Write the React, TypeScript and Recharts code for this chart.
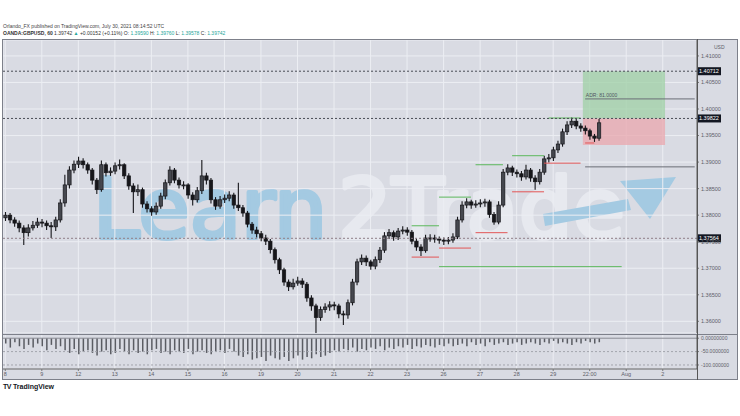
import React from "react";
import {
  ComposedChart,
  Bar,
  XAxis,
  YAxis,
  CartesianGrid,
  ReferenceLine,
  ReferenceArea,
} from "recharts";

const FONT = "'Liberation Sans', Arial, sans-serif";
const PANE = "#d9dbe3";
const GRID = "#eceef3";

// GBPUSD, 3h candles (open = previous close)
const firstOpen = 1.3795;
const closes = [
  1.38, 1.3791, 1.3785, 1.3776, 1.3767, 1.3776, 1.3781, 1.3787, 1.3785, 1.378,
  1.3778, 1.3791, 1.3823, 1.3857, 1.3885, 1.3896, 1.3902, 1.3895, 1.3885, 1.3866,
  1.3848, 1.3895, 1.388, 1.3883, 1.3893, 1.3895, 1.3874, 1.3855, 1.3844, 1.3848,
  1.3821, 1.3812, 1.3806, 1.3817, 1.3836, 1.3861, 1.3885, 1.3866, 1.3857, 1.3857,
  1.3838, 1.3829, 1.3846, 1.3874, 1.3866, 1.3829, 1.3817, 1.3829, 1.3832, 1.3838,
  1.3819, 1.3814, 1.3804, 1.3783, 1.3772, 1.3765, 1.3757, 1.3751, 1.3735, 1.3716,
  1.3697, 1.3674, 1.3665, 1.3672, 1.3676, 1.367, 1.3644, 1.3629, 1.3607, 1.3622,
  1.3627, 1.3631, 1.3629, 1.3614, 1.3612, 1.3635, 1.3674, 1.3712, 1.3719, 1.3712,
  1.3704, 1.3716, 1.3734, 1.3761, 1.3767, 1.3759, 1.377, 1.3772, 1.3768, 1.3751,
  1.374, 1.3733, 1.3757, 1.3757, 1.3755, 1.3753, 1.3751, 1.3753, 1.3759, 1.3791,
  1.3819, 1.3825, 1.3819, 1.3821, 1.3823, 1.3825, 1.3801, 1.3787, 1.3819, 1.3881,
  1.3889, 1.3881, 1.3878, 1.3872, 1.3885, 1.387, 1.3863, 1.3881, 1.3906, 1.3908,
  1.3923, 1.3934, 1.3957, 1.397, 1.3977, 1.3968, 1.3964, 1.3959, 1.3949, 1.3945,
  1.3974,
];
const highs = [
  1.3806, 1.3804, 1.3796, 1.379, 1.3781, 1.3783, 1.3789, 1.3795, 1.3793, 1.379,
  1.3787, 1.3797, 1.383, 1.3876, 1.3892, 1.3903, 1.391, 1.3907, 1.3899, 1.3889,
  1.387, 1.3903, 1.3899, 1.389, 1.3899, 1.3905, 1.3898, 1.3879, 1.386, 1.3858,
  1.3852, 1.3826, 1.3817, 1.3824, 1.3842, 1.3867, 1.3892, 1.3889, 1.3871, 1.3864,
  1.386, 1.3843, 1.3853, 1.3904, 1.388, 1.387, 1.3834, 1.3836, 1.3839, 1.3845,
  1.3842, 1.3861, 1.3819, 1.3808, 1.3787, 1.3778, 1.377, 1.3763, 1.3755, 1.3739,
  1.372, 1.3701, 1.3679, 1.368, 1.3684, 1.3681, 1.3674, 1.3649, 1.3633, 1.3628,
  1.3634, 1.3638, 1.3637, 1.3633, 1.362, 1.3641, 1.368, 1.3718, 1.3726, 1.3724,
  1.3716, 1.3722, 1.374, 1.3768, 1.3774, 1.3771, 1.3776, 1.3779, 1.3777, 1.3772,
  1.3756, 1.3745, 1.3763, 1.3764, 1.3763, 1.376, 1.3758, 1.3759, 1.3766, 1.3797,
  1.3826, 1.3832, 1.3829, 1.3828, 1.383, 1.3831, 1.3829, 1.3806, 1.3826, 1.3887,
  1.3896, 1.3893, 1.3886, 1.3883, 1.3895, 1.3889, 1.3875, 1.3887, 1.3912, 1.3915,
  1.3929, 1.394, 1.3963, 1.3977, 1.3984, 1.3981, 1.3973, 1.3969, 1.3963, 1.3953,
  1.3981,
];
const lows = [
  1.3789, 1.3785, 1.3778, 1.3768, 1.3744, 1.376, 1.3771, 1.3776, 1.3777, 1.3772,
  1.3757, 1.377, 1.3786, 1.3816, 1.385, 1.3879, 1.3889, 1.3888, 1.3878, 1.3858,
  1.384, 1.3844, 1.3873, 1.3874, 1.3877, 1.3886, 1.3868, 1.3848, 1.3804, 1.3836,
  1.3814, 1.3805, 1.3799, 1.3801, 1.3812, 1.383, 1.3856, 1.386, 1.385, 1.3849,
  1.3831, 1.3818, 1.3824, 1.384, 1.3858, 1.3822, 1.381, 1.3812, 1.3823, 1.3826,
  1.3812, 1.3808, 1.3797, 1.3777, 1.3765, 1.3758, 1.3751, 1.3744, 1.3728, 1.3709,
  1.3689, 1.3667, 1.3657, 1.366, 1.3667, 1.3663, 1.3637, 1.362, 1.3578, 1.3601,
  1.3616, 1.362, 1.3621, 1.3606, 1.3593, 1.3605, 1.363, 1.3668, 1.3706, 1.3704,
  1.3697, 1.3698, 1.371, 1.3729, 1.3755, 1.3752, 1.3753, 1.3764, 1.3761, 1.3745,
  1.3733, 1.3723, 1.3729, 1.375, 1.3748, 1.3746, 1.3744, 1.3745, 1.3748, 1.3755,
  1.3786, 1.3813, 1.3812, 1.3814, 1.3815, 1.3816, 1.3795, 1.3782, 1.3783, 1.3815,
  1.3875, 1.3874, 1.3871, 1.3865, 1.3867, 1.3863, 1.3848, 1.3858, 1.3876, 1.3899,
  1.3902, 1.3917, 1.3929, 1.3951, 1.3964, 1.3962, 1.3957, 1.3952, 1.3942, 1.3938,
  1.394,
];
// lower pane oscillator
const oscValues = [
  -20, -35, -15, -30, -40, -25, -35, -20, -30, -45, -25, -40, -30,
  -45, -55, -40, -60, -50, -45, -55, -65, -50, -45, -60, -55, -40, -50, -60, -45,
  -55, -50, -60, -45, -40, -55, -50, -60, -45, -50, -55, -40, -60, -50, -45, -55,
  -60, -50, -45, -55, -40, -50,
  -65, -70, -60, -80, -75, -70, -85, -65, -75, -80, -70, -85, -75, -65, -80, -70,
  -75, -60, -70, -65,
  -55, -45, -50, -40, -45, -35, -50, -40, -45, -35, -40, -30, -45, -35, -40, -30,
  -35, -25, -40, -30, -35, -25, -30, -35, -25, -30, -20, -30,
  -25, -20, -30, -15, -25, -20, -30, -15, -25, -20, -15, -25, -20, -15, -25, -20,
  -15, -20, -25, -15, -20, -10, -20, -15, -20, -25, -15, -20, -10, -15, -20, -15,
];

const slotCount = 152;
const dayTicks = [0, 8, 16, 24, 32, 40, 48, 56, 64, 72, 80, 88, 96, 104, 112, 120, 128, 136, 144];
const dayLabels = ["8", "9", "12", "13", "14", "15", "16", "19", "20", "21", "22", "23", "26", "27", "28", "29", "22:00", "Aug", "2"];
const priceTicks = [1.36, 1.365, 1.37, 1.375, 1.38, 1.385, 1.39, 1.395, 1.4, 1.405, 1.41];
const markedLevels = [1.40712, 1.39822, 1.37564];
const oscTicks = [0, -50, -100];
const oscLabels = ["0.00000000", "-50.0000000", "-100.000000"];

const greenLevels = [
  { from: 119, to: 126, price: 1.3983 },
  { from: 111, to: 118, price: 1.3912 },
  { from: 103, to: 109, price: 1.3895 },
  { from: 95, to: 102, price: 1.3834 },
  { from: 89, to: 95, price: 1.378 },
  { from: 95, to: 135, price: 1.3703 },
];
const redLevels = [
  { from: 127, to: 129, price: 1.3936 },
  { from: 118, to: 126, price: 1.3898 },
  { from: 111, to: 118, price: 1.3844 },
  { from: 103, to: 110, price: 1.3767 },
  { from: 95, to: 102, price: 1.3738 },
  { from: 89, to: 95, price: 1.3721 },
];
const greyLevels = [
  { from: 127, to: 151, price: 1.4019 },
  { from: 127, to: 151, price: 1.3891 },
];
const position = { from: 127, to: 144, target: 1.40712, entry: 1.39822, stop: 1.3932 };

const data = Array.from({ length: slotCount }, (_, i) =>
  i < closes.length
    ? {
        i,
        open: i === 0 ? firstOpen : closes[i - 1],
        close: closes[i],
        high: highs[i],
        low: lows[i],
        range: [lows[i], highs[i]],
        osc: oscValues[i],
      }
    : { i }
);

const Candle = (props: any) => {
  const { x, y, width, height, payload } = props;
  if (!payload || payload.high == null) return null;
  const { open, close, high, low } = payload;
  const h = Math.abs(height);
  const top = height < 0 ? y + height : y;
  const k = h / (high - low);
  const cx = x + width / 2;
  const yO = top + (high - open) * k;
  const yC = top + (high - close) * k;
  const bTop = Math.min(yO, yC);
  const bH = Math.max(1, Math.abs(yC - yO));
  const up = close >= open;
  return (
    <g>
      <line x1={cx} x2={cx} y1={top} y2={top + h} stroke="#16161a" strokeWidth={1.1} />
      <rect
        x={cx - 1.7}
        y={bTop}
        width={3.4}
        height={bH}
        fill={up ? "#45474e" : "#16161a"}
        stroke="#16161a"
        strokeWidth={0.7}
      />
    </g>
  );
};

const LevelTag = (props: any) => {
  const { viewBox, text } = props;
  if (!viewBox) return null;
  const x = viewBox.x + viewBox.width;
  const y = viewBox.y;
  return (
    <g>
      <rect x={x} y={y - 4} width={24} height={8} fill="#131722" />
      <text x={x + 2} y={y + 2} fontSize={5.5} fill="#ffffff" fontFamily={FONT}>
        {text}
      </text>
    </g>
  );
};

export default function App() {
  return (
    <div
      style={{
        position: "absolute",
        left: 0,
        top: 0,
        width: 740,
        height: 416,
        background: "#ffffff",
        fontFamily: FONT,
        overflow: "hidden",
      }}
    >
      <div style={{ position: "absolute", left: 3, top: 23, fontSize: 5, color: "#444", whiteSpace: "nowrap", lineHeight: "6px" }}>
        Orlando_FX published on TradingView.com, July 30, 2021 08:14:52 UTC
      </div>
      <div style={{ position: "absolute", left: 3, top: 30, fontSize: 5, color: "#333", whiteSpace: "nowrap", lineHeight: "6px" }}>
        <b>OANDA:GBPUSD, 60</b> 1.39742 <span style={{ color: "#26a69a" }}>▲</span> +0.00152 (+0.11%) O:{" "}
        <span style={{ color: "#26a69a" }}>1.39590</span> H: <span style={{ color: "#26a69a" }}>1.39760</span> L:{" "}
        <span style={{ color: "#26a69a" }}>1.39578</span> C: <span style={{ color: "#26a69a" }}>1.39742</span>
      </div>

      {/* chart frame */}
      <div
        style={{
          position: "absolute",
          left: 2,
          top: 39,
          width: 736,
          height: 341,
          boxSizing: "border-box",
          border: "1px solid #7d808a",
          background: PANE,
        }}
      />

      {/* watermark */}
      <svg width={740} height={416} style={{ position: "absolute", left: 0, top: 0 }}>
        <text
          x={93}
          y={238}
          fontSize={84}
          fontFamily="'DejaVu Sans', sans-serif"
          textLength={234}
          lengthAdjust="spacingAndGlyphs"
          fill="#a4cae2"
          stroke="#a4cae2"
          strokeWidth={4}
          strokeLinejoin="round"
        >
          Learn
        </text>
        <text
          x={338}
          y={238}
          fontSize={84}
          fontFamily="'DejaVu Sans', sans-serif"
          textLength={287}
          lengthAdjust="spacingAndGlyphs"
          fill="#e7e9ef"
          stroke="#e7e9ef"
          strokeWidth={4}
          strokeLinejoin="round"
        >
          2Trade
        </text>
        <polygon points="543,214 628,199 631,210 545,226" fill="#a4cae2" />
        <polygon points="620,181 676,177 650,219" fill="#a4cae2" />
      </svg>

      {/* price pane */}
      <div style={{ position: "absolute", left: 3, top: 40 }}>
        <ComposedChart width={735} height={293} data={data} margin={{ top: 0, right: 0, bottom: 0, left: 0 }}>
          <CartesianGrid stroke={GRID} strokeWidth={1} />
          <XAxis dataKey="i" type="category" hide ticks={dayTicks} interval={0} />
          <YAxis
            orientation="right"
            width={41}
            type="number"
            domain={[1.3578, 1.413]}
            allowDataOverflow
            ticks={priceTicks}
            interval={0}
            tickFormatter={(v: number) => v.toFixed(5)}
            tick={{ fontSize: 5.5, fill: "#5d6069", fontFamily: FONT }}
            tickSize={2}
            tickMargin={2}
            axisLine={{ stroke: "#555" }}
            tickLine={{ stroke: "#777" }}
          />
          <ReferenceArea
            x1={position.from}
            x2={position.to}
            y1={position.entry}
            y2={position.target}
            fill="#9fd0a6"
            fillOpacity={0.75}
            stroke="none"
            label={{ value: "ADR: 81.0000", position: "insideLeft", fontSize: 5, fill: "#4f5560", offset: 3 }}
          />
          <ReferenceArea
            x1={position.from}
            x2={position.to}
            y1={position.stop}
            y2={position.entry}
            fill="#eaa7ad"
            fillOpacity={0.75}
            stroke="none"
          />
          {greyLevels.map((l, k) => (
            <ReferenceLine
              key={"gr" + k}
              segment={[{ x: l.from, y: l.price }, { x: l.to, y: l.price }]}
              stroke="#6b6e76"
              strokeWidth={1}
            />
          ))}
          {greenLevels.map((l, k) => (
            <ReferenceLine
              key={"g" + k}
              segment={[{ x: l.from, y: l.price }, { x: l.to, y: l.price }]}
              stroke="#5cb85c"
              strokeWidth={1}
            />
          ))}
          {redLevels.map((l, k) => (
            <ReferenceLine
              key={"r" + k}
              segment={[{ x: l.from, y: l.price }, { x: l.to, y: l.price }]}
              stroke="#e35656"
              strokeWidth={1}
            />
          ))}
          {markedLevels.map((lv, k) => (
            <ReferenceLine
              key={"m" + k}
              y={lv}
              stroke={k === 2 ? "#8f7f88" : "#4a4d55"}
              strokeDasharray="2 2"
              strokeWidth={1}
              label={<LevelTag text={lv.toFixed(5)} />}
            />
          ))}
          <Bar dataKey="range" barSize={3} isAnimationActive={false} shape={(p: any) => <Candle {...p} />} />
        </ComposedChart>
      </div>

      {/* oscillator pane + time axis */}
      <div style={{ position: "absolute", left: 3, top: 335 }}>
        <ComposedChart width={735} height={45} data={data} margin={{ top: 0, right: 0, bottom: 0, left: 0 }}>
          <CartesianGrid stroke={GRID} horizontal={false} />
          <XAxis
            dataKey="i"
            type="category"
            ticks={dayTicks}
            interval={0}
            height={11}
            tickFormatter={(v: number) => dayLabels[dayTicks.indexOf(v)] ?? ""}
            tick={{ fontSize: 5.5, fill: "#5d6069", fontFamily: FONT }}
            tickSize={2}
            tickMargin={1}
            axisLine={{ stroke: "#666" }}
            tickLine={{ stroke: "#777" }}
          />
          <YAxis
            orientation="right"
            width={41}
            type="number"
            domain={[-115, 12]}
            allowDataOverflow
            ticks={oscTicks}
            interval={0}
            tickFormatter={(v: number) => oscLabels[oscTicks.indexOf(v)] ?? ""}
            tick={{ fontSize: 5, fill: "#5d6069", fontFamily: FONT }}
            tickSize={2}
            tickMargin={2}
            axisLine={{ stroke: "#555" }}
            tickLine={{ stroke: "#777" }}
          />
          <ReferenceLine y={0} stroke="#8a8c94" strokeWidth={1} />
          <ReferenceLine y={-50} stroke="#a3a5ad" strokeDasharray="2 2" />
          <ReferenceLine y={-100} stroke="#a3a5ad" strokeDasharray="2 2" />
          <Bar dataKey="osc" fill="#5a5c63" barSize={1.5} isAnimationActive={false} />
        </ComposedChart>
      </div>

      {/* pane separators */}
      <div style={{ position: "absolute", left: 2, top: 334, width: 736, height: 1, background: "#7d808a" }} />
      <div style={{ position: "absolute", left: 697, top: 39, width: 1, height: 341, background: "#555" }} />
      <div style={{ position: "absolute", left: 714, top: 44, fontSize: 5, color: "#5d6069" }}>USD</div>

      <div style={{ position: "absolute", left: 3, top: 383, fontSize: 7, fontWeight: "bold", color: "#131722", whiteSpace: "nowrap" }}>
        <span style={{ letterSpacing: -0.5 }}>TV</span> TradingView
      </div>
    </div>
  );
}
